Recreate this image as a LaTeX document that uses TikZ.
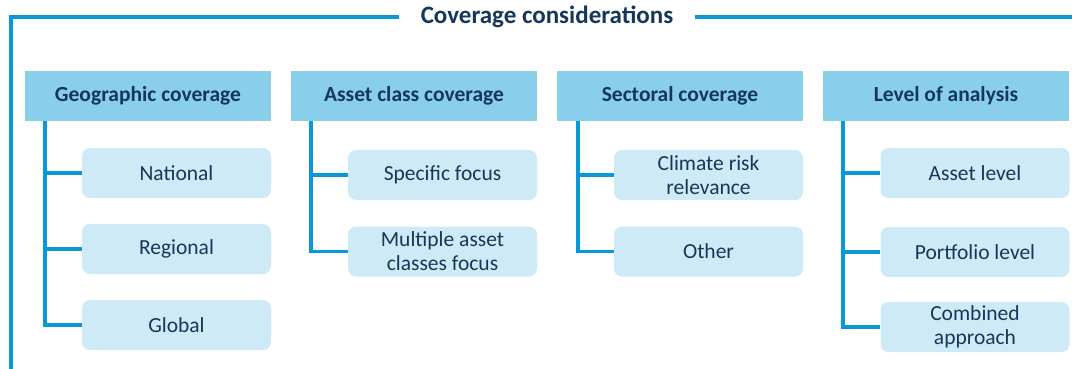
\documentclass[tikz,border=0pt]{standalone}
\usepackage{fontspec}
\setmainfont{Carlito}
\definecolor{hdrfill}{HTML}{89CFEC}
\definecolor{chfill}{HTML}{CFEAF7}
\definecolor{lineblue}{HTML}{0A98D8}
\definecolor{navy}{HTML}{15375B}
\tikzset{
  hdr/.style={rectangle, fill=hdrfill, minimum width=246pt, minimum height=50pt, inner sep=0pt, text=navy, font=\fontsize{21.5}{24}\selectfont\bfseries},
  child/.style={rectangle, rounded corners=8pt, fill=chfill, minimum width=189pt, minimum height=50pt, inner sep=0pt, align=center, text=navy, font=\fontsize{21.5}{24}\selectfont},
  conn/.style={draw=lineblue, line width=3.2pt},
  frame/.style={draw=lineblue, line width=3.2pt},
}
\begin{document}
\begin{tikzpicture}[x=1pt,y=-1pt]
\useasboundingbox (0,0) rectangle (1072,369);
% title and frame
\node[inner xsep=22pt, inner ysep=0pt, text=navy, font=\fontsize{25}{28}\selectfont\bfseries] (title) at (547,17) {Coverage considerations};
\coordinate (fbl) at (11,369);
\coordinate (fr) at (1072,17);
\draw[frame] (fbl) |- (title.west);
\draw[frame] (title.east) -- (fr);
% column 1
\node[hdr] (h1) at (148,96) {Geographic coverage};
\node[child] (c11) at (176.5,173) {National};
\node[child] (c12) at (176.5,249) {Regional};
\node[child] (c13) at (176.5,325) {Global};
\coordinate (v1) at (45,121);
\draw[conn] (v1) |- (c11.west);
\draw[conn] (v1) |- (c12.west);
\draw[conn] (v1) |- (c13.west);
% column 2
\node[hdr] (h2) at (414,96) {Asset class coverage};
\node[child] (c21) at (442.5,175) {Specific focus};
\node[child] (c22) at (442.5,251.5) {Multiple asset\\classes focus};
\coordinate (v2) at (311,121);
\draw[conn] (v2) |- (c21.west);
\draw[conn] (v2) |- (c22.west);
% column 3
\node[hdr] (h3) at (680,96) {Sectoral coverage};
\node[child] (c31) at (708.5,175) {Climate risk\\relevance};
\node[child] (c32) at (708.5,251.5) {Other};
\coordinate (v3) at (578,121);
\draw[conn] (v3) |- (c31.west);
\draw[conn] (v3) |- (c32.west);
% column 4
\node[hdr] (h4) at (946,96) {Level of analysis};
\node[child] (c41) at (975,173) {Asset level};
\node[child] (c42) at (975,252) {Portfolio level};
\node[child] (c43) at (975,327) {Combined\\approach};
\coordinate (v4) at (843,121);
\draw[conn] (v4) |- (c41.west);
\draw[conn] (v4) |- (c42.west);
\draw[conn] (v4) |- (c43.west);
\end{tikzpicture}
\end{document}
